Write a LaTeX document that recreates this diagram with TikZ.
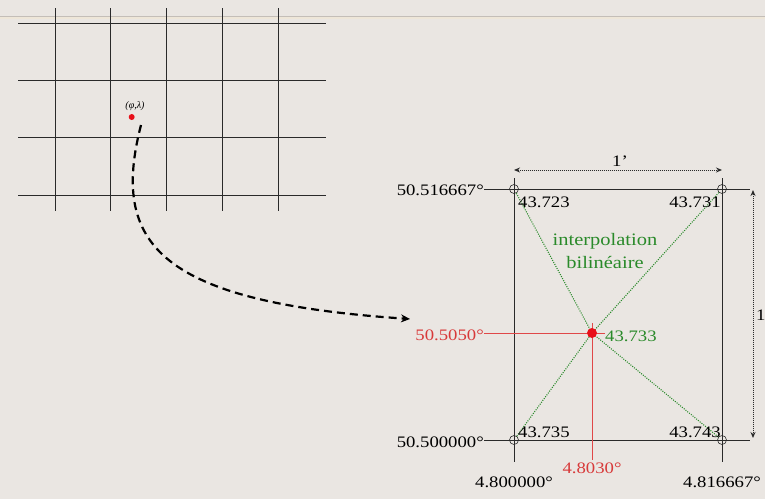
\documentclass[tikz,border=0pt]{standalone}
\usepackage{fontspec}
\usepackage{graphicx}
\setmainfont{Liberation Serif}
\usetikzlibrary{arrows.meta}
\newcommand{\sx}[1]{\scalebox{1.17}[1]{#1}}
\definecolor{bg}{HTML}{EAE6E2}
\definecolor{gridc}{HTML}{2A2A2A}
\definecolor{topline}{HTML}{C4BEB8}
\definecolor{topline2}{HTML}{EEE6D8}
\definecolor{grn}{HTML}{2A8A2A}
\definecolor{redpt}{HTML}{E8101A}
\definecolor{redln}{HTML}{E04848}
\definecolor{redtx}{HTML}{D83A3A}
\begin{document}
\begin{tikzpicture}[x=1pt,y=-1pt,
  gline/.style={gridc,line width=0.8pt},
  bline/.style={gridc,line width=0.7pt},
  num/.style={inner sep=0pt,anchor=base,font=\fontsize{16}{18}\selectfont},
  corner/.style={circle,draw=gridc,line width=0.6pt,inner sep=0pt,minimum size=9pt},
  gdot/.style={grn,dash pattern=on 1pt off 1.3pt,line width=1.1pt},
  rline/.style={redln,line width=0.9pt},
  dim/.style={gridc,densely dotted,line width=1pt,{Stealth[length=6pt,width=5pt]}-{Stealth[length=6pt,width=5pt]}}]
\useasboundingbox[fill=bg] (0,0) rectangle (765,499);
% top rule
\fill[topline2] (0,16) rectangle (765,19);
\draw[topline,line width=0.8pt] (0,16) -- (765,16);
% left grid
\foreach \yy in {23,80,137,195} \draw[gline] (18,\yy) -- (326,\yy);
\foreach \xx in {55,110.7,166,222,278} \draw[gline] (\xx,8) -- (\xx,211);
\node[circle,fill=redpt,inner sep=0pt,minimum size=6pt] (pt) at (131.7,117) {};
\node[inner sep=0pt,anchor=base,font=\fontsize{10}{11}\selectfont\itshape] (phl) at (135,108) {(φ,λ)};
% dashed arrow
\coordinate (dstart) at (141,125);
\coordinate (dend) at (410,319);
\draw[black,line width=2.2pt,dash pattern=on 8pt off 5pt,-{Stealth[length=9pt,width=8pt]}]
  (dstart) .. controls (110,245) and (160,302) .. (dend);
% right box
\coordinate (TL) at (514,189);
\coordinate (TR) at (722,189);
\coordinate (BL) at (514,440);
\coordinate (BR) at (722,440);
\coordinate (P) at (592,333);
\node[num,anchor=base east] (la1) at (484,195) {\sx{50.516667°}};
\node[num,anchor=base east] (la2) at (484,447) {\sx{50.500000°}};
\coordinate (t1) at (750,189);
\coordinate (t2) at (750,440);
\draw[bline] (la1.east |- TL) -- (t1);
\draw[bline] (la2.east |- BL) -- (t2);
\coordinate (v1a) at (514,178); \coordinate (v1b) at (514,462);
\coordinate (v2a) at (722,178); \coordinate (v2b) at (722,462);
\draw[bline] (v1a) -- (v1b);
\draw[bline] (v2a) -- (v2b);
\node[num] (lo1) at (514,487) {\sx{4.800000°}};
\node[num] (lo2) at (722,487) {\sx{4.816667°}};
\node[corner] (c1) at (TL) {};
\node[corner] (c2) at (TR) {};
\node[corner] (c3) at (BL) {};
\node[corner] (c4) at (BR) {};
% green interpolation lines
\node[circle,inner sep=0pt,minimum size=10pt] (rp) at (P) {};
\draw[gdot] (c1) -- (rp.center);
\draw[gdot] (c2) -- (rp.center);
\draw[gdot] (c3) -- (rp.center);
\draw[gdot] (c4) -- (rp.center);
% red lines
\node[num,anchor=base east,text=redtx] (rlat) at (484,340) {\sx{50.5050°}};
\node[num,text=redtx] (rlon) at (592,473) {\sx{4.8030°}};
\coordinate (rh) at (605,333);
\coordinate (rv) at (592,323);
\coordinate (rvb) at (592,460);
\draw[rline] (rlat.east |- P) -- (rh);
\draw[rline] (rv) -- (rvb);
\fill[redpt] (rp.center) circle[radius=5pt];
% values
\node[num,anchor=base west] (v1) at (518,207) {\sx{43.723}};
\node[num,anchor=base east] (v2) at (721,207) {\sx{43.731}};
\node[num,anchor=base west] (v3) at (518,437) {\sx{43.735}};
\node[num,anchor=base east] (v4) at (721,437) {\sx{43.743}};
\node[num,anchor=base west,text=grn] (v5) at (605,341) {\sx{43.733}};
\node[num,text=grn,font=\fontsize{17.5}{19}\selectfont] (il1) at (605,245) {\sx{interpolation}};
\node[num,text=grn,font=\fontsize{17.5}{19}\selectfont] (il2) at (605,268) {\sx{bilinéaire}};
% dimensions
\coordinate (d1) at (514,170); \coordinate (d2) at (722,170);
\draw[dim] (d1) -- (d2);
\node[num] (dl1) at (620,166) {\sx{1’}};
\coordinate (d3) at (753,190); \coordinate (d4) at (753,438);
\draw[dim] (d3) -- (d4);
\node[num,anchor=base west] (dl2) at (756,320) {\sx{1}};
\end{tikzpicture}
\end{document}
